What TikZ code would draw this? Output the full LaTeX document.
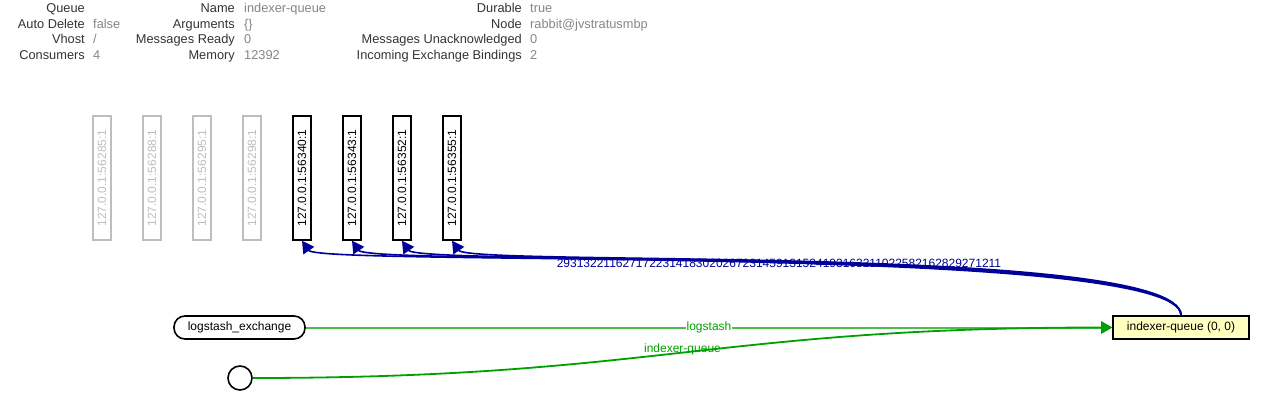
\documentclass[tikz,border=0pt]{standalone}
\usepackage{fontspec}
\setmainfont{Liberation Sans}
\usetikzlibrary{arrows.meta}
\definecolor{edgeblue}{HTML}{000099}
\definecolor{edgegreen}{HTML}{00A000}
\definecolor{bindgreen}{HTML}{4DBB4D}
\definecolor{qyellow}{HTML}{FFFFC0}
\definecolor{keygray}{HTML}{333333}
\definecolor{valgray}{HTML}{858585}
\definecolor{idlegray}{HTML}{BEBEBE}

\begin{document}
\begin{tikzpicture}[x=1pt,y=-1pt,
  key/.style={anchor=base east,inner sep=0pt,text=keygray,font=\fontsize{12.8}{14}\selectfont},
  val/.style={anchor=base west,inner sep=0pt,text=valgray,font=\fontsize{12.8}{14}\selectfont},
  conn/.style={draw,line width=1.5pt,minimum width=18pt,minimum height=124pt,inner sep=0pt,font=\fontsize{12}{14}\selectfont},
  idle/.style={conn,draw=idlegray,text=idlegray,line width=1.2pt},
  box/.style={draw,line width=1.6pt,minimum height=23pt,inner sep=0pt,font=\fontsize{12}{14}\selectfont},
  tip/.style={-{Triangle[length=12pt,width=13pt]}}]
  \useasboundingbox (0,0) rectangle (1282,409);
  % queue details, three columns
  \foreach \k/\v [count=\i] in {Queue/, Auto Delete/false, Vhost/\slash, Consumers/4}{
    \node[key] (ka\i) at (85,{12.5+15.6*(\i-1)}) {\k};
    \node[val] (va\i) at (93,{12.5+15.6*(\i-1)}) {\v};
  }
  \foreach \k/\v [count=\i] in {Name/indexer-queue, Arguments/\{\}, Messages Ready/0, Memory/12392}{
    \node[key] (kb\i) at (235,{12.5+15.6*(\i-1)}) {\k};
    \node[val] (vb\i) at (244,{12.5+15.6*(\i-1)}) {\v};
  }
  \foreach \k/\v [count=\i] in {Durable/true, Node/rabbit@jvstratusmbp, Messages Unacknowledged/0, Incoming Exchange Bindings/2}{
    \node[key] (kc\i) at (522,{12.5+15.6*(\i-1)}) {\k};
    \node[val] (vc\i) at (530,{12.5+15.6*(\i-1)}) {\v};
  }
  % consumers
  \foreach \p [count=\i] in {56285,56288,56295,56298}
    \node[idle] (c\i) at ({102+50*(\i-1)},178) {\rotatebox{90}{127.0.0.1:\p:1}};
  \foreach \p [count=\i from 5] in {56340,56343,56352,56355}
    \node[conn] (c\i) at ({102+50*(\i-1)},178) {\rotatebox{90}{127.0.0.1:\p:1}};
  % exchange, queue and default exchange
  \node[box,minimum width=131pt,rounded corners=11pt] (ex) at (239.5,327.5) {logstash\_exchange};
  \node[box,minimum width=136pt,fill=qyellow] (q) at (1181,327.5) {indexer-queue (0, 0)};
  \node[draw,circle,line width=1.6pt,minimum size=24pt,inner sep=0pt] (dflt) at (240,378) {};
  % deliveries to consumers
  \foreach \i in {5,...,8}
    \draw[edgeblue,line width=1.6pt,tip] (q.north) .. controls +(0,-72) and +(18,26) .. (c\i.south);
  \node[text=edgeblue,inner sep=0pt,font=\fontsize{12}{14}\selectfont] (cnt) at (779,263)
    {2931322116271722314183020267231459131524193163211022582162829271211};
  % bindings
  \draw[bindgreen,line width=2pt,-{Triangle[length=11pt,width=12pt,color=edgegreen]}] (ex) --
    node[fill=white,text=edgegreen,inner sep=1pt,font=\fontsize{12}{14}\selectfont] (lk) {logstash} (q);
  \draw[edgegreen,line width=1.8pt,-{Triangle[length=11pt,width=12pt]}] (dflt.east) .. controls +(400,0) and +(-400,0) .. (q.west)
    node[pos=0.5,yshift=3pt,text=edgegreen,inner sep=0pt,font=\fontsize{12}{14}\selectfont] (ik) {indexer-queue};
\end{tikzpicture}
\end{document}
